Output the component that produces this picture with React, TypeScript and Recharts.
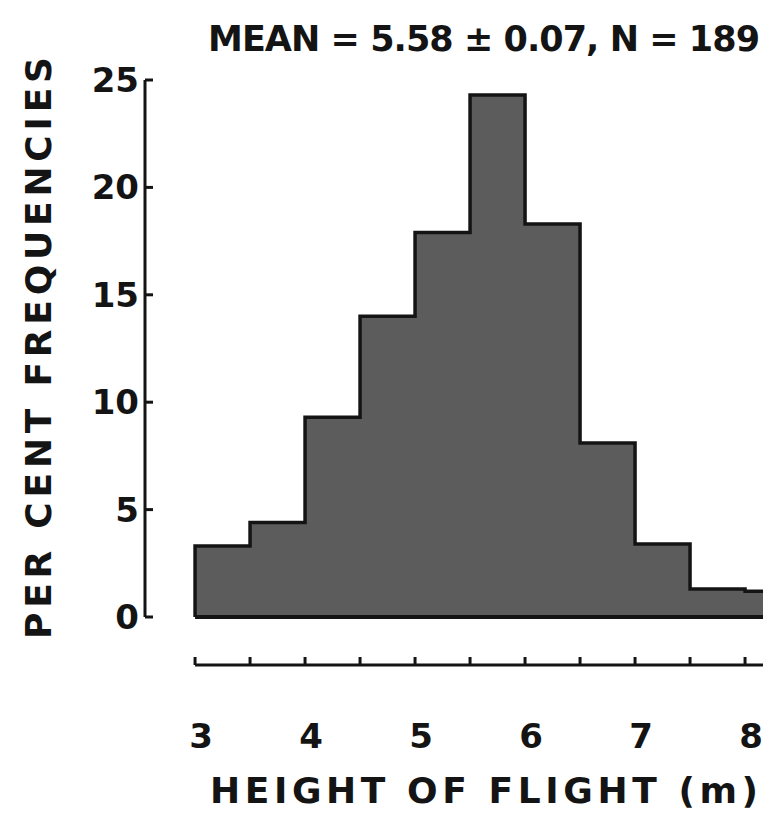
import { Area, ComposedChart, Label, ReferenceLine, XAxis, YAxis } from "recharts";

// histogram bins (m), 0.5 m wide
const binStarts = [3, 3.5, 4, 4.5, 5, 5.5, 6, 6.5, 7, 7.5, 8];
const percents = [3.3, 4.4, 9.3, 14.0, 17.9, 24.3, 18.3, 8.1, 3.4, 1.3, 1.2];
const binWidth = 0.5;

const yTicks = [0, 5, 10, 15, 20, 25];
const xTicks = [3, 3.5, 4, 4.5, 5, 5.5, 6, 6.5, 7, 7.5, 8];
const xLabels = [3, 4, 5, 6, 7, 8];

const X_MIN = 2.545;
const X_MAX = 8.236;
const Y_MIN = -2.235;
const Y_MAX = 25;

const INK = "#141414";
const FONT = "DejaVu Sans";

// step outline: start at the baseline so the left edge is drawn
const steps = [
  { x: binStarts[0], y: 0 },
  ...binStarts.map((x, i) => ({ x, y: percents[i] })),
  { x: binStarts[binStarts.length - 1] + binWidth, y: percents[percents.length - 1] },
];

// eslint-disable-next-line @typescript-eslint/no-explicit-any
const YTick = ({ x, y, payload }: any) => (
  <g>
    <line x1={x} x2={x + 8} y1={y} y2={y} stroke={INK} strokeWidth={3} />
    <text
      x={x - 6}
      y={y}
      dy={12}
      textAnchor="end"
      fontSize={34}
      fontWeight="bold"
      fontFamily={FONT}
      fill={INK}
    >
      {payload.value}
    </text>
  </g>
);

// eslint-disable-next-line @typescript-eslint/no-explicit-any
const XTick = ({ x, y, payload }: any) => (
  <g>
    <line x1={x} x2={x} y1={y} y2={y - 8} stroke={INK} strokeWidth={3} />
    {xLabels.includes(payload.value) && (
      <text
        x={x + 6}
        y={y + 83}
        textAnchor="middle"
        fontSize={34}
        fontWeight="bold"
        fontFamily={FONT}
        fill={INK}
      >
        {payload.value}
      </text>
    )}
  </g>
);

const App = () => {
  return (
    <ComposedChart
      width={763}
      height={805}
      data={steps}
      margin={{ top: 72, right: 0, bottom: 0, left: 0 }}
    >
      <XAxis
        dataKey="x"
        type="number"
        domain={[X_MIN, X_MAX]}
        allowDataOverflow
        ticks={xTicks}
        interval={0}
        axisLine={false}
        tickLine={false}
        tickSize={0}
        tickMargin={0}
        height={148}
        tick={<XTick />}
      >
        <Label
          content={() => (
            <text
              x={476}
              y={795}
              textAnchor="middle"
              fontSize={36}
              fontWeight="bold"
              fontFamily={FONT}
              fill={INK}
              textLength={548}
              lengthAdjust="spacing"
            >
              HEIGHT OF FLIGHT (m)
            </text>
          )}
        />
      </XAxis>
      <YAxis
        type="number"
        domain={[Y_MIN, Y_MAX]}
        allowDataOverflow
        ticks={yTicks}
        interval={0}
        axisLine={false}
        tickLine={false}
        tickSize={0}
        tickMargin={0}
        width={137}
        tick={<YTick />}
      >
        <Label
          content={() => (
            <g>
              <text
                x={30}
                y={340}
                dy={13}
                transform="rotate(-90 30 340)"
                textAnchor="middle"
                fontSize={36}
                fontWeight="bold"
                fontFamily={FONT}
                fill={INK}
                textLength={582}
                lengthAdjust="spacing"
              >
                PER CENT FREQUENCIES
              </text>
              <text
                x={476}
                y={43}
                textAnchor="middle"
                fontSize={35}
                fontWeight="bold"
                fontFamily={FONT}
                fill={INK}
                textLength={552}
                lengthAdjust="spacing"
              >
                MEAN = 5.58 ± 0.07, N = 189
              </text>
            </g>
          )}
        />
      </YAxis>

      <Area
        type="stepAfter"
        dataKey="y"
        baseValue={0}
        fill="#5c5c5c"
        fillOpacity={1}
        stroke={INK}
        strokeWidth={3.5}
        dot={false}
        activeDot={false}
        isAnimationActive={false}
      />

      <ReferenceLine
        segment={[{ x: binStarts[0], y: 0 }, { x: X_MAX, y: 0 }]}
        stroke={INK}
        strokeWidth={4}
      />
      <ReferenceLine
        segment={[{ x: X_MIN, y: 0 }, { x: X_MIN, y: Y_MAX }]}
        stroke={INK}
        strokeWidth={3}
      />
      <ReferenceLine
        segment={[{ x: binStarts[0], y: Y_MIN }, { x: X_MAX, y: Y_MIN }]}
        stroke={INK}
        strokeWidth={3}
      />
    </ComposedChart>
  );
};

export default App;
